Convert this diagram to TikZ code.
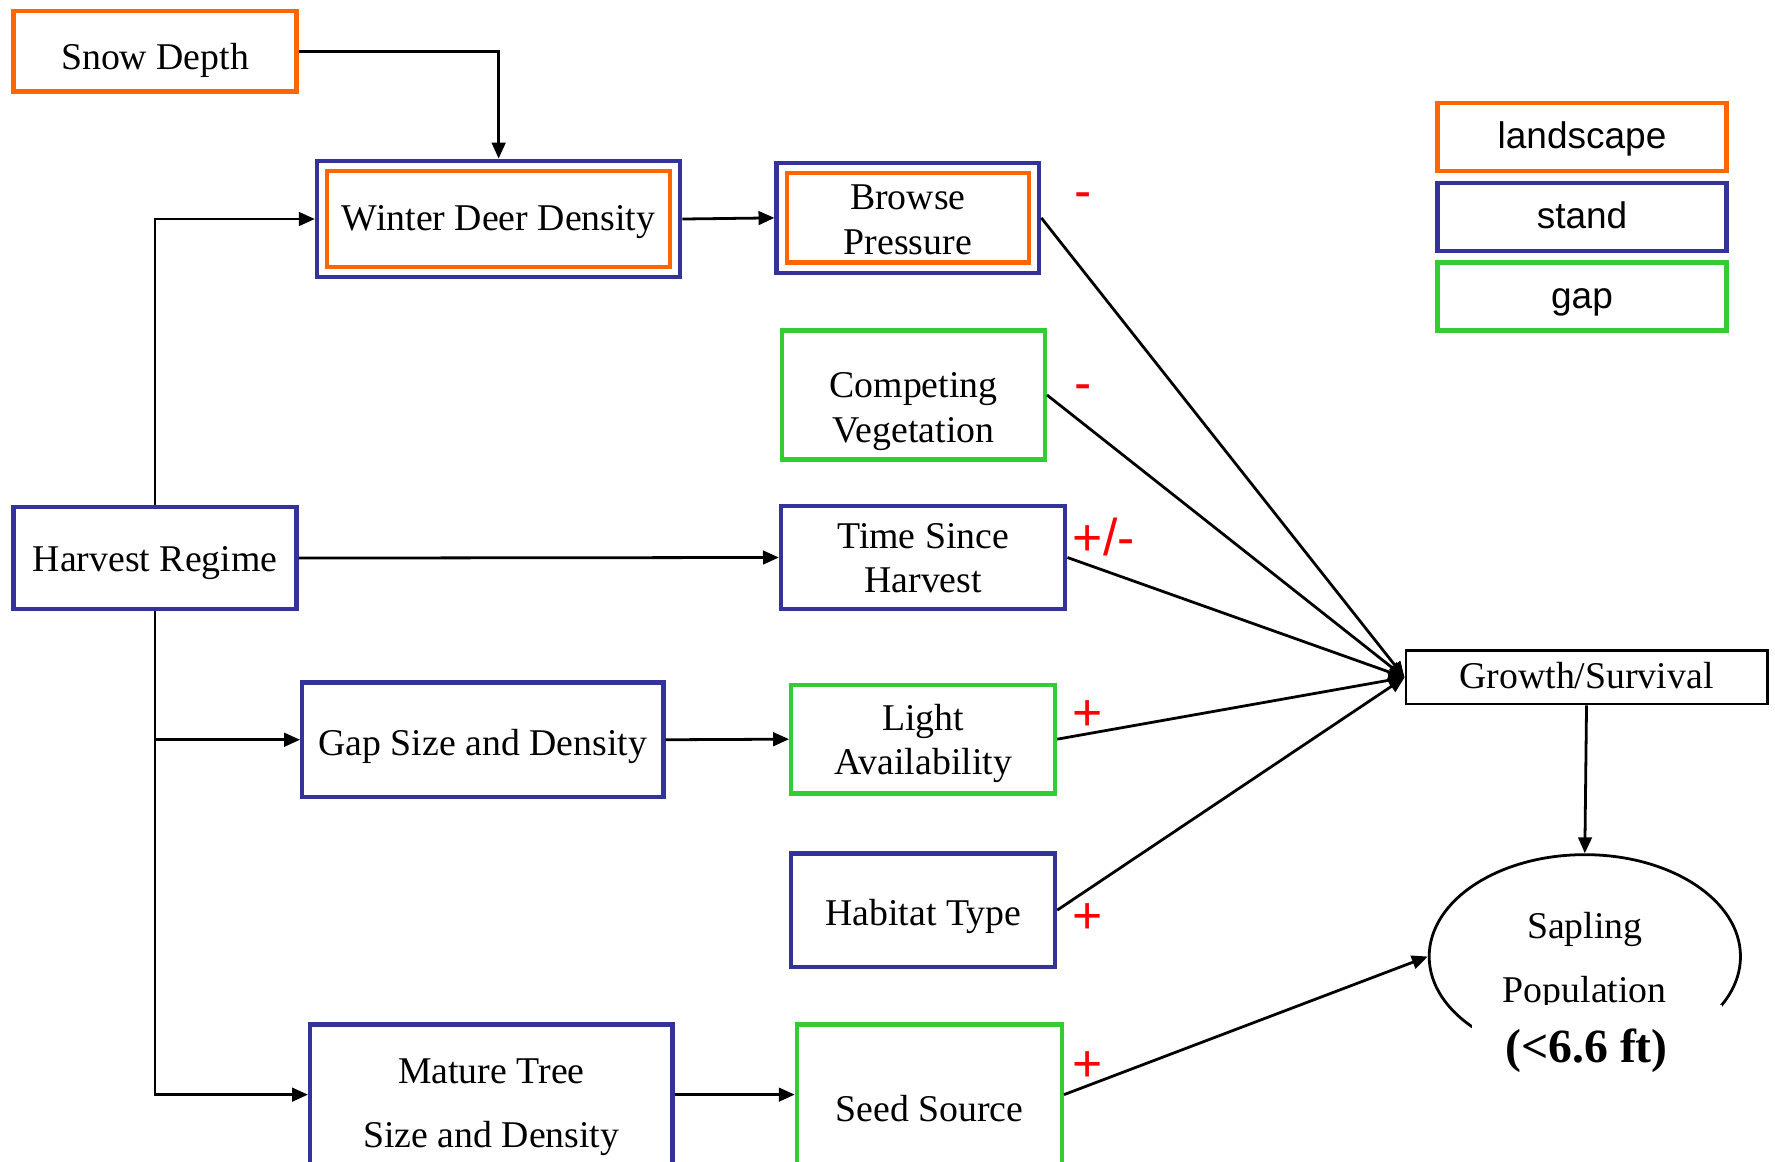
\documentclass[tikz,border=0pt]{standalone}
\usepackage{fontspec}
\setmainfont{Liberation Serif}
\setsansfont{Liberation Sans}
\usetikzlibrary{arrows.meta,positioning,shapes.geometric,fit}
\definecolor{lsorange}{RGB}{255,102,0}
\definecolor{stblue}{RGB}{51,51,153}
\definecolor{gpgreen}{RGB}{51,204,51}
\definecolor{sgred}{RGB}{255,0,0}

\begin{document}
\begin{tikzpicture}[
  every node/.style={font=\fontsize{9.5}{11.2}\selectfont,inner sep=0pt},
  landbox/.style={draw=lsorange,line width=1.1pt,align=center},
  standbox/.style={draw=stblue,line width=1.1pt,align=center},
  gapbox/.style={draw=gpgreen,line width=1.1pt,align=center},
  oneline/.style={text height=7.9pt,text depth=0pt},
  twoline/.style={text height=19.1pt,text depth=1.3pt},
  keybox/.style={line width=1.1pt,minimum width=2.55cm,minimum height=0.6cm,
                 text height=5.8pt,text depth=0pt,
                 font=\sffamily\fontsize{9.3}{11}\selectfont},
  signlbl/.style={text=sgred,anchor=base,font=\sffamily\fontsize{13}{15}\selectfont},
  link/.style={-{Triangle[length=4pt,width=3.4pt]},line width=0.7pt},
]
  \useasboundingbox (0,0) rectangle (15.68,10.26);

  % legend
  \node[keybox,draw=lsorange] (keyland)  at (13.975,9.05)  {landscape};
  \node[keybox,draw=stblue]   (keystand) at (13.975,8.345) {stand};
  \node[keybox,draw=gpgreen]  (keygap)   at (13.975,7.64)  {gap};

  % drivers
  \node[landbox,oneline,text height=9.2pt,minimum width=2.5cm,minimum height=0.71cm]
    (snow) at (1.37,9.805) {Snow Depth};
  \node[standbox,oneline,text height=6.8pt,minimum width=2.5cm,minimum height=0.9cm]
    (harv) at (1.37,5.33) {Harvest Regime};
  \node[landbox,oneline,text height=5.8pt,minimum width=3.03cm,minimum height=0.85cm]
    (wdd) at (4.405,8.325) {Winter Deer Density};
  \node[standbox,fit=(wdd),inner sep=0.07cm] (wddout) {};
  \node[landbox,twoline,text depth=0.9pt,minimum width=2.14cm,minimum height=0.79cm]
    (brw) at (8.02,8.335) {Browse\\Pressure};
  \node[standbox,fit=(brw),inner sep=0.07cm] (brwout) {};
  \node[gapbox,twoline,text height=23.8pt,text depth=0pt,minimum width=2.32cm,minimum height=1.14cm]
    (comp) at (8.07,6.77) {Competing\\Vegetation};
  \node[standbox,twoline,minimum width=2.51cm,minimum height=0.91cm]
    (tsh) at (8.155,5.335) {Time Since\\Harvest};
  \node[standbox,oneline,text height=8.1pt,minimum width=3.19cm,minimum height=1.01cm]
    (gapsz) at (4.265,3.725) {Gap Size and Density};
  \node[gapbox,twoline,minimum width=2.33cm,minimum height=0.96cm]
    (light) at (8.155,3.73) {Light\\Availability};
  \node[standbox,oneline,minimum width=2.33cm,minimum height=1.0cm]
    (hab) at (8.155,2.22) {Habitat Type};
  \node[standbox,text height=26.6pt,text depth=0pt,minimum width=3.2cm,minimum height=1.24cm]
    (mat) at (4.34,0.59) {Mature Tree\\[4.9pt]Size and Density};
  \node[gapbox,text height=13.6pt,text depth=0pt,minimum width=2.34cm,minimum height=1.24cm]
    (seed) at (8.21,0.59) {Seed Source};

  % response
  \node[draw,line width=0.7pt,text height=5.6pt,text depth=0pt,
        minimum width=3.19cm,minimum height=0.47cm] (gs) at (14.015,4.275) {Growth/Survival};
  \node[draw,ellipse,line width=0.7pt,align=center,text height=22.9pt,text depth=0pt,
        minimum width=2.75cm,minimum height=1.8cm] (sap) at (14.0,1.81)
        {Sapling\\[4.9pt]Population};
  \node[fill=white,minimum width=2.21cm,minimum height=1.02cm,text height=4pt,text depth=4pt,
        font=\bfseries\fontsize{12}{14}\selectfont] (sapsz) at (14.105,0.87) {(<6.6 ft)\hspace*{0.18cm}};

  % connectors
  \draw[link] (snow.east) -| (wddout.north);
  \draw[link] (harv.north) |- (wddout.west);
  \draw[link] (wddout.east) -- (brwout.west);
  \draw[link] (harv.east) -- (tsh.west);
  \draw[link] (harv.south) |- (gapsz.west);
  \draw[link] (harv.south) |- (mat.west);
  \draw[link] (gapsz.east) -- (light.west);
  \draw[link] (mat.east) -- (seed.west);
  \foreach \src in {brwout,comp,tsh,light,hab}
    \draw[link] (\src.east) -- (gs.west);
  \draw[link] (gs.south) -- (sap.north);
  \draw[link] (seed.east) -- (sap.west);

  % signs
  \node[signlbl] (sgbrw)   at (9.57,8.42) {-};
  \node[signlbl] (sgcomp)  at (9.57,6.72) {-};
  \node[signlbl] (sgtsh)   at (9.75,5.35) {+/-};
  \node[signlbl] (sglight) at (9.61,3.81) {+};
  \node[signlbl] (sghab)   at (9.61,2.01) {+};
  \node[signlbl] (sgseed)  at (9.61,0.71) {+};
\end{tikzpicture}
\end{document}
